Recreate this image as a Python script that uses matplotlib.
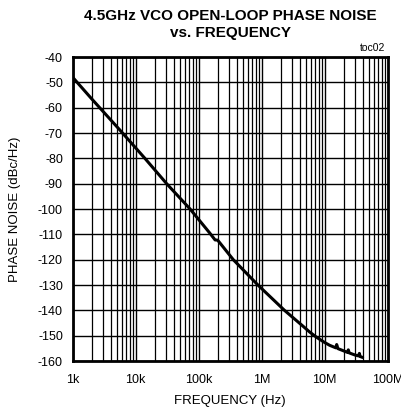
import matplotlib
matplotlib.use("Agg")
import matplotlib.pyplot as plt
import numpy as np

plt.rcParams['font.family'] = ['Liberation Sans Narrow', 'Liberation Sans', 'DejaVu Sans']

# offset frequency (Hz) and phase noise (dBc/Hz)
freq = [1e3, 2e3, 5.6e3, 14e3, 31e3, 73e3, 150e3, 182e3, 200e3, 219e3, 354e3,
        871e3, 2.3e6, 4.5e6, 5.8e6, 7.4e6, 10e6, 12e6, 15e6, 15.5e6, 16.2e6, 20e6,
        23e6, 23.7e6, 24.5e6, 30e6, 34.5e6, 35.5e6, 36.5e6, 40e6]
noise = [-48, -56.5, -68.8, -80, -90, -100, -109.5, -112.2, -112.3, -113.5, -120,
         -130, -140, -146.2, -148.6, -150.6, -152.7, -153.8, -154.8, -153.5, -155.1, -156,
         -156.6, -155.6, -156.8, -157.6, -158, -157, -158.2, -158.6]

title = "4.5GHz VCO OPEN-LOOP PHASE NOISE\nvs. FREQUENCY"
xticks = [1e3, 1e4, 1e5, 1e6, 1e7, 1e8]
xlabels = ["1k", "10k", "100k", "1M", "10M", "100M"]
yticks = list(range(-160, -39, 10))

fig = plt.figure(figsize=(4.01, 4.13), dpi=100)
ax = fig.add_axes([0.1813, 0.1259, 0.7855, 0.736])

ax.plot(freq, noise, color='black', lw=2.2, solid_capstyle='round', zorder=3)

ax.set_xscale('log')
ax.set_xlim(1e3, 1e8)
ax.set_ylim(-160, -40)
ax.set_xticks(xticks)
ax.set_xticklabels(xlabels)
ax.set_yticks(yticks)
ax.set_yticklabels([str(v) for v in yticks])
ax.xaxis.set_minor_locator(matplotlib.ticker.LogLocator(base=10, subs=np.arange(2, 10)))
ax.xaxis.set_minor_formatter(matplotlib.ticker.NullFormatter())
ax.grid(True, which='major', color='black', lw=1.0)
ax.grid(True, which='minor', axis='x', color='black', lw=0.9)
ax.tick_params(which='both', length=0, labelsize=9)
ax.tick_params(axis='x', pad=9)
ax.tick_params(axis='y', pad=7)
for s in ax.spines.values():
    s.set_linewidth(2.0)

ax.set_xlabel("FREQUENCY (Hz)", fontsize=9.5, labelpad=7)
ax.set_ylabel("PHASE NOISE (dBc/Hz)", fontsize=9.5, labelpad=12)
fig.text(0.575, 0.978, title, ha='center', va='top', fontsize=11,
         fontweight='bold', linespacing=1.3)
fig.text(0.96, 0.872, "toc02", ha='right', va='bottom', fontsize=7.5)

fig.savefig("out.png", dpi=100)
